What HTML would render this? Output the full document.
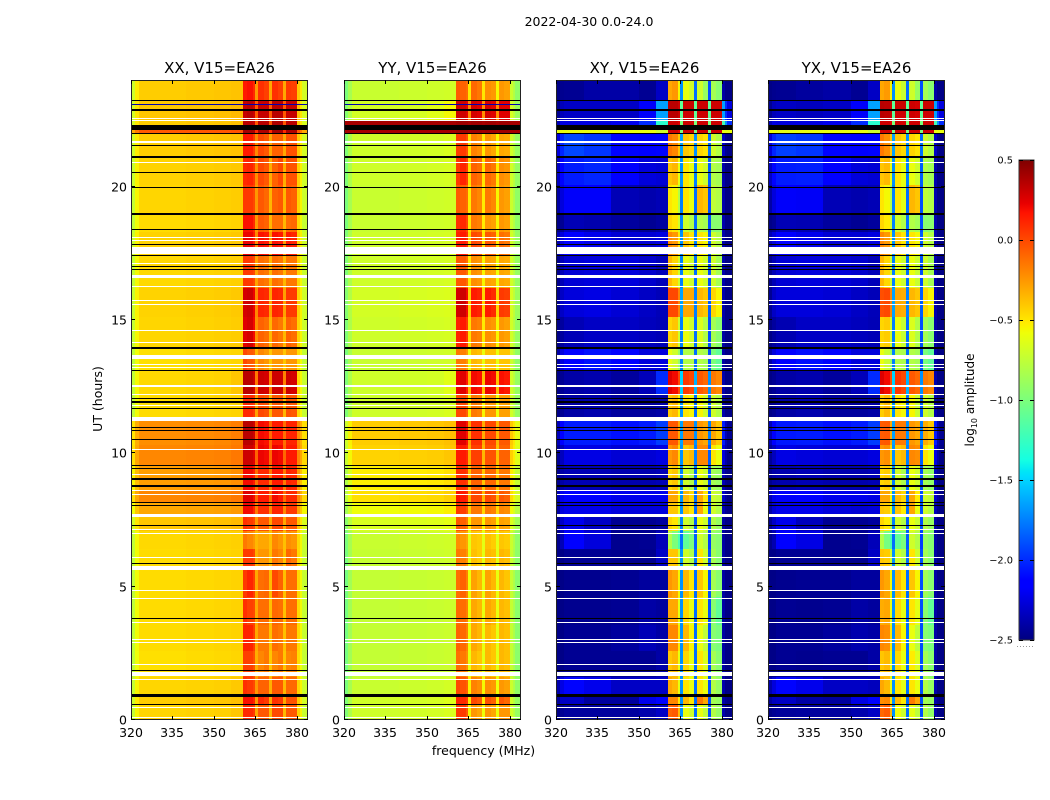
<!DOCTYPE html>
<html lang="en">
<head>
<meta charset="utf-8">
<title>2022-04-30 amplitude waterfall</title>
<style>
html,body{margin:0;padding:0;background:#fff;width:1050px;height:800px;overflow:hidden}
svg{display:block}
text{font-family:"DejaVu Sans","Liberation Sans",sans-serif;fill:#000}
</style>
</head>
<body>
<svg id="figure" xmlns="http://www.w3.org/2000/svg" width="1050" height="800" viewBox="0 0 1050 800">
<rect width="1050" height="800" fill="#fff"/>
<text x="589" y="26" font-size="12.5" text-anchor="middle">2022-04-30 0.0-24.0</text>
<text x="483.5" y="755" font-size="12.5" text-anchor="middle">frequency (MHz)</text>
<text x="0" y="0" font-size="12.5" text-anchor="middle" transform="translate(102,399) rotate(-90)">UT (hours)</text>
<text x="0" y="0" font-size="12" text-anchor="middle" transform="translate(974,400) rotate(-90)">log<tspan font-size="8" dy="3">10</tspan><tspan dy="-3"> amplitude</tspan></text>
<g id="panels"></g>
<g id="colorbar"></g>
</svg>
<script>
const panelTitles = ["XX, V15=EA26", "YY, V15=EA26", "XY, V15=EA26", "YX, V15=EA26"];
const freqTicks = [320, 335, 350, 365, 380];
const utTicks = [0, 5, 10, 15, 20];
const colorbarTicks = [0.5, 0, -0.5, -1, -1.5, -2, -2.5];
const colorbarLabels = ["0.5", "0.0", "\u22120.5", "\u22121.0", "\u22121.5", "\u22122.0", "\u22122.5"];
const freqEdgesMHz = [320, 321.5, 323, 330, 340, 350, 356, 360.5, 362, 364, 365, 366, 368, 370, 371, 373, 375, 376, 378, 380, 381, 382, 384];
const utEdgesHours = [0, 0.55, 0.95, 1.6, 2.6, 3.55, 4.6, 5.7, 6.4, 7.1, 7.7, 8.15, 8.6, 9.55, 10.3, 11.25, 12.2, 13.1, 13.95, 15.1, 16.2, 17.45, 18.3, 19, 20.05, 21.1, 22, 22.3, 22.45, 23.25, 24];
// flagged integrations: [centre UT hour, duration in hours]
const blackFlags = [[23.22,.04],[22.89,.08],[22.23,.17],[21.98,.04],[21.55,.04],[21.11,.08],[20.52,.04],[19.98,.04],[18.99,.08],[18.4,.04],[17.84,.04],[17.43,.04],[17,.04],[16.9,.04],[13.95,.08],[13.11,.04],[12.05,.04],[11.91,.08],[11.69,.04],[10.98,.04],[10.86,.04],[10.53,.04],[9.55,.04],[9.44,.04],[9.05,.08],[8.78,.08],[8.15,.04],[8.06,.04],[7.3,.04],[5.88,.04],[3.81,.04],[1.85,.04],[.93,.11],[.59,.04]];
const whiteFlags = [[22.55,.04],[22.49,.04],[21.69,.08],[20.91,.04],[18.09,.04],[17.97,.04],[17.6,.27],[17.11,.04],[16.64,.1],[16.26,.04],[15.72,.04],[15.59,.04],[14.61,.04],[14.16,.04],[13.62,.14],[13.34,.04],[13.23,.04],[12.56,.04],[12.5,.04],[12.21,.04],[11.8,.04],[11.3,.16],[10.16,.04],[9.21,.04],[8.6,.04],[8.44,.04],[7.68,.1],[7.14,.04],[7,.04],[6.1,.04],[5.71,.14],[4.86,.04],[4.56,.04],[3.66,.04],[3.03,.04],[2.91,.04],[2.09,.04],[1.73,.16],[1.51,.04],[.48,.04],[.1,.04]];
const lowAmplitudeFlagsXXYY = [[23.09,.04]];
// log10 amplitude in hundredths of a dex; rows run UT 0 upward, columns follow freqEdgesMHz
const xxAmplitude = [
[-73,-55,-45,-45,-44,-43,-40,10,10,5,-30,-5,-5,-35,0,0,-35,-5,-5,-44,-55,-72],
[-70,-52,-42,-42,-41,-40,-38,18,18,12,-25,10,5,-30,8,5,-30,-3,-3,-41,-52,-68],
[-73,-55,-45,-45,-44,-43,-41,8,5,0,-25,-8,-8,-33,-5,-5,-35,-10,-10,-44,-55,-71],
[-76,-58,-48,-48,-47,-46,-45,3,3,-3,-32,-20,-15,-40,-20,-15,-40,-20,-18,-47,-58,-74],
[-75,-57,-47,-47,-46,-45,-44,12,12,3,-30,-15,-15,-38,-12,-15,-38,-15,-15,-46,-57,-73],
[-75,-57,-47,-47,-46,-45,-44,8,3,0,-30,-12,-12,-38,-10,-12,-38,-12,-12,-46,-57,-73],
[-75,-57,-47,-47,-46,-45,-44,5,12,3,-30,-12,-10,-36,0,-8,-38,-12,-12,-46,-57,-73],
[-75,-57,-47,-47,-46,-45,-44,5,5,0,-33,-25,-25,-38,-15,-20,-38,-10,-15,-46,-57,-73],
[-74,-56,-46,-46,-45,-44,-43,-15,-20,-25,-35,-30,-30,-38,-20,-25,-38,-22,-25,-45,-56,-72],
[-68,-50,-40,-40,-39,-38,-36,8,5,0,-25,-5,-5,-30,0,0,-30,-5,-5,-39,-50,-66],
[-58,-40,-30,-30,-29,-28,-26,20,20,12,-15,8,8,-20,12,12,-20,5,5,-29,-40,-56],
[-48,-30,-20,-20,-19,-18,-15,25,25,20,-8,15,15,-10,20,15,-10,10,10,-19,-30,-46],
[-55,-37,-27,-27,-26,-25,-22,20,20,15,-12,10,10,-15,15,15,-15,12,10,-26,-37,-53],
[-48,-30,-20,-20,-19,-18,-15,30,30,25,-8,22,20,-10,22,20,-10,15,15,-19,-30,-46],
[-50,-32,-22,-22,-21,-20,-17,35,35,30,-5,20,18,-10,15,15,-12,12,12,-21,-32,-48],
[-75,-57,-47,-47,-46,-45,-44,10,10,5,-28,0,-3,-35,-5,-5,-35,-3,-5,-46,-57,-73],
[-74,-56,-46,-46,-45,-44,-40,35,35,30,-15,30,28,-18,30,30,-18,30,28,-45,-56,-72],
[-76,-58,-48,-48,-47,-46,-45,0,-5,-8,-35,-20,-25,-40,-25,-25,-40,-25,-25,-47,-58,-74],
[-73,-55,-45,-45,-44,-43,-42,25,28,20,-22,-8,-12,-35,-10,-15,-35,-8,-12,-44,-55,-71],
[-72,-54,-44,-44,-43,-42,-41,28,30,22,-20,12,10,-28,12,10,-28,5,5,-43,-54,-70],
[-74,-56,-46,-46,-45,-44,-43,5,5,0,-28,-12,-15,-35,-12,-15,-35,-15,-15,-45,-56,-72],
[-72,-54,-44,-44,-43,-42,-41,22,22,15,-20,18,15,-25,18,15,-25,15,12,-43,-54,-70],
[-75,-57,-47,-47,-46,-45,-44,18,18,10,-25,-5,-8,-35,-12,-12,-35,-12,-10,-46,-57,-73],
[-73,-55,-45,-45,-44,-43,-42,5,5,0,-25,-5,-10,-35,-8,-5,-35,-5,-8,-44,-55,-71],
[-72,-54,-44,-44,-43,-42,-41,10,12,5,-22,0,-5,-32,-8,0,-32,-3,-3,-43,-54,-70],
[-70,-52,-42,-42,-41,-40,-39,15,15,5,-20,0,-5,-30,-8,-8,-30,-3,-3,-41,-52,-68],
[-30,-15,-5,-5,-5,-5,-3,40,40,38,10,38,38,10,40,40,10,38,38,-5,-15,-30],
[-68,-50,-42,-42,-41,-40,-38,35,35,32,-5,35,35,-5,38,38,-5,35,35,-41,-50,-66],
[-68,-50,-40,-40,-39,-38,-36,32,35,30,-5,32,32,-5,35,35,-5,32,32,-39,-50,-66],
[-70,-52,-42,-42,-41,-40,-39,15,18,10,-25,8,3,-30,8,3,-30,5,3,-41,-52,-68]
];
const yyAmplitude = [
[-98,-82,-70,-70,-69,-68,-66,5,5,-5,-55,-25,-30,-58,-25,-30,-58,-25,-25,-69,-78,-90],
[-98,-82,-69,-69,-68,-67,-64,12,10,5,-50,0,-5,-52,-3,-8,-52,-5,-10,-68,-78,-90],
[-100,-84,-72,-72,-71,-70,-68,0,-3,-8,-54,-18,-22,-56,-22,-25,-58,-25,-28,-71,-80,-92],
[-102,-86,-74,-74,-73,-72,-71,-12,-15,-22,-60,-35,-40,-62,-35,-40,-62,-35,-38,-73,-82,-94],
[-102,-86,-74,-74,-73,-72,-71,-8,-10,-18,-58,-30,-35,-60,-35,-40,-62,-35,-38,-73,-82,-94],
[-102,-86,-74,-74,-73,-72,-71,-10,-12,-18,-58,-30,-35,-60,-30,-35,-60,-35,-38,-73,-82,-94],
[-102,-86,-74,-74,-73,-72,-71,-12,-8,-18,-58,-28,-35,-60,-28,-35,-60,-35,-40,-73,-82,-94],
[-101,-85,-73,-73,-72,-71,-70,-15,-18,-25,-60,-38,-42,-62,-35,-38,-62,-35,-38,-72,-81,-93],
[-100,-84,-72,-72,-71,-70,-69,-22,-25,-30,-62,-40,-42,-62,-38,-42,-62,-40,-42,-71,-80,-92],
[-94,-78,-66,-66,-65,-64,-62,-5,-8,-15,-52,-25,-25,-55,-25,-28,-55,-28,-30,-65,-74,-86],
[-86,-70,-58,-58,-57,-56,-53,5,3,-5,-42,-15,-15,-45,-15,-18,-45,-20,-22,-57,-66,-78],
[-76,-60,-48,-48,-47,-46,-43,18,15,10,-32,0,0,-35,0,-3,-35,-5,-8,-47,-56,-68],
[-81,-65,-53,-53,-52,-51,-48,8,8,3,-38,-8,-8,-40,-10,-10,-40,-15,-15,-52,-61,-73],
[-72,-56,-44,-44,-43,-42,-40,15,15,10,-32,3,3,-35,-3,-3,-38,-8,-8,-43,-52,-64],
[-70,-54,-42,-42,-41,-40,-38,25,25,18,-28,8,8,-32,0,0,-35,-5,-5,-41,-50,-62],
[-98,-82,-70,-70,-69,-68,-66,0,0,-8,-52,-15,-18,-55,-25,-25,-58,-28,-28,-69,-78,-90],
[-98,-82,-70,-70,-69,-68,-63,22,25,15,-35,20,18,-38,22,20,-38,18,15,-69,-78,-90],
[-100,-84,-72,-72,-71,-70,-69,-15,-18,-25,-58,-35,-38,-60,-38,-38,-60,-40,-40,-71,-80,-92],
[-98,-82,-70,-70,-69,-68,-67,12,15,5,-48,-15,-18,-52,-22,-25,-55,-25,-28,-69,-78,-90],
[-96,-80,-68,-68,-67,-66,-65,28,30,20,-42,15,12,-45,15,10,-45,5,3,-67,-76,-88],
[-98,-82,-70,-70,-69,-68,-67,-5,-5,-12,-52,-22,-25,-55,-28,-30,-58,-30,-32,-69,-78,-90],
[-98,-82,-70,-70,-69,-68,-67,12,15,8,-45,0,-3,-50,-5,-8,-50,-12,-15,-69,-78,-90],
[-100,-84,-72,-72,-71,-70,-69,8,10,0,-50,-15,-18,-52,-25,-28,-55,-25,-28,-71,-80,-92],
[-100,-84,-72,-72,-71,-70,-69,-5,-8,-12,-52,-15,-20,-52,-15,-20,-55,-25,-28,-71,-80,-92],
[-98,-82,-70,-70,-69,-68,-67,5,12,3,-48,-8,-12,-50,-10,-15,-52,-22,-25,-69,-78,-90],
[-98,-82,-70,-70,-69,-68,-66,3,5,-3,-48,-18,-22,-52,-25,-30,-55,-30,-32,-69,-78,-90],
[40,40,40,40,40,40,40,42,42,42,40,42,42,40,42,42,40,42,42,40,40,40],
[40,40,40,40,40,40,40,42,42,42,40,42,42,40,42,42,40,42,42,40,40,40],
[-96,-80,-68,-68,-67,-63,-56,30,30,25,-20,28,25,-22,28,25,-22,25,25,-67,-76,-88],
[-100,-84,-72,-72,-71,-70,-69,-5,-8,-12,-50,-10,-15,-50,-22,-25,-55,-25,-28,-71,-80,-92]
];
const xyAmplitude = [
[-248,-245,-242,-242,-242,-238,-232,-8,-5,-35,-170,-60,-70,-180,-60,-75,-190,-80,-90,-238,-248,-248],
[-242,-232,-232,-242,-242,-222,-212,-20,-20,-50,-170,-35,-50,-180,-15,-30,-190,-85,-90,-238,-245,-248],
[-238,-224,-212,-222,-232,-232,-232,-30,-35,-60,-170,-50,-60,-180,-50,-60,-190,-80,-90,-238,-248,-248],
[-248,-248,-245,-245,-245,-245,-240,-40,-35,-60,-170,-45,-60,-180,-50,-65,-190,-85,-95,-240,-248,-248],
[-248,-248,-245,-245,-242,-236,-240,-20,-20,-50,-170,-35,-55,-180,-60,-75,-190,-95,-100,-240,-248,-248],
[-248,-248,-246,-246,-245,-240,-242,-30,-30,-60,-170,-45,-60,-180,-50,-60,-190,-95,-110,-240,-248,-248],
[-248,-248,-246,-246,-245,-242,-242,-25,-30,-55,-170,-35,-50,-180,-40,-55,-190,-85,-95,-240,-248,-248],
[-248,-248,-245,-245,-246,-246,-232,-40,-40,-70,-170,-70,-80,-180,-50,-70,-190,-85,-95,-240,-248,-248],
[-246,-236,-215,-226,-246,-245,-235,-80,-100,-120,-180,-110,-100,-185,-70,-80,-195,-90,-95,-240,-248,-248],
[-245,-232,-222,-232,-245,-245,-242,-45,-50,-80,-175,-70,-80,-185,-60,-70,-190,-80,-90,-240,-248,-248],
[-240,-226,-222,-222,-226,-226,-226,-40,-40,-60,-170,-40,-50,-180,-30,-60,-190,-70,-80,-235,-245,-248],
[-235,-222,-216,-216,-222,-222,-222,-30,-30,-55,-170,-35,-45,-180,-30,-50,-190,-70,-75,-230,-242,-248],
[-246,-240,-236,-236,-238,-238,-236,-45,-40,-70,-175,-70,-80,-180,-60,-70,-190,-85,-90,-235,-245,-248],
[-244,-234,-224,-224,-228,-228,-225,-25,-20,-45,-170,-40,-35,-175,-20,-20,-185,-50,-60,-225,-240,-248],
[-235,-215,-205,-205,-208,-205,-195,-5,-5,-30,-165,-15,-15,-170,-25,-30,-175,-30,-40,-205,-235,-245],
[-248,-245,-240,-238,-242,-242,-240,-40,-35,-55,-170,-50,-55,-180,-55,-70,-185,-70,-80,-238,-248,-248],
[-248,-245,-240,-238,-242,-235,-200,25,20,0,-150,5,0,-160,-5,-10,-170,-15,-20,-238,-248,-248],
[-240,-226,-216,-208,-216,-226,-226,-60,-70,-90,-175,-80,-80,-180,-80,-85,-190,-100,-110,-240,-248,-248],
[-248,-242,-236,-232,-232,-234,-236,-45,-40,-70,-175,-60,-70,-180,-65,-80,-190,-85,-95,-240,-248,-248],
[-245,-232,-226,-224,-228,-232,-235,0,0,-20,-165,-30,-30,-175,-35,-40,-185,-45,-55,-238,-248,-248],
[-246,-236,-228,-226,-226,-230,-235,-35,-45,-70,-175,-60,-70,-180,-60,-70,-190,-70,-85,-238,-248,-248],
[-236,-226,-216,-222,-228,-228,-225,-20,-25,-50,-170,-40,-50,-175,-50,-55,-185,-70,-80,-238,-248,-248],
[-248,-245,-236,-238,-242,-245,-242,-45,-50,-70,-175,-70,-80,-180,-80,-85,-190,-95,-95,-238,-248,-248],
[-240,-226,-218,-218,-236,-238,-236,-50,-55,-80,-175,-50,-60,-180,-35,-40,-190,-75,-80,-238,-248,-248],
[-232,-212,-205,-202,-216,-226,-228,-40,-35,-60,-170,-50,-60,-175,-60,-70,-185,-80,-85,-238,-248,-248],
[-226,-202,-192,-197,-212,-216,-212,-15,-20,-40,-165,-40,-45,-170,-45,-50,-180,-70,-80,-232,-245,-248],
[-60,-60,-60,-60,-60,-60,-70,30,30,25,-100,30,30,-100,30,30,-100,30,30,-60,-60,-60],
[-235,-225,-225,-225,-222,-200,-130,30,30,25,-100,30,30,-100,30,30,-100,30,30,-120,-170,-200],
[-245,-235,-232,-232,-232,-218,-165,35,35,30,-110,30,30,-110,30,30,-110,30,30,-165,-200,-225],
[-248,-246,-245,-240,-240,-245,-232,-30,-25,-55,-170,-60,-70,-180,-70,-90,-190,-85,-95,-240,-248,-248]
];
const yxAmplitude = [
[-248,-245,-243,-242,-242,-238,-232,-10,-6,-35,-170,-58,-70,-180,-62,-76,-190,-80,-92,-238,-248,-248],
[-242,-234,-232,-240,-242,-224,-212,-22,-20,-50,-170,-36,-50,-180,-16,-30,-190,-85,-90,-238,-245,-248],
[-238,-226,-212,-222,-232,-232,-234,-30,-36,-60,-170,-50,-62,-180,-50,-60,-190,-80,-90,-238,-248,-248],
[-248,-248,-245,-246,-245,-245,-240,-40,-36,-60,-170,-46,-60,-180,-52,-65,-190,-85,-95,-240,-248,-248],
[-248,-248,-245,-245,-242,-238,-240,-20,-22,-50,-170,-35,-55,-180,-60,-76,-190,-95,-100,-240,-248,-248],
[-248,-248,-245,-246,-245,-240,-242,-32,-30,-60,-170,-46,-60,-180,-50,-62,-190,-95,-110,-240,-248,-248],
[-248,-248,-246,-245,-245,-242,-242,-25,-30,-56,-170,-36,-50,-180,-40,-55,-190,-86,-95,-240,-248,-248],
[-248,-248,-245,-245,-246,-246,-232,-40,-42,-70,-170,-70,-80,-180,-50,-70,-190,-85,-95,-240,-248,-248],
[-246,-238,-215,-224,-246,-245,-235,-80,-102,-120,-180,-110,-100,-185,-70,-80,-195,-90,-96,-240,-248,-248],
[-245,-232,-222,-234,-245,-245,-242,-45,-52,-80,-175,-70,-80,-185,-60,-72,-190,-80,-90,-240,-248,-248],
[-240,-228,-222,-222,-226,-228,-226,-40,-42,-60,-170,-40,-52,-180,-30,-60,-190,-70,-80,-235,-245,-248],
[-235,-222,-218,-216,-222,-222,-224,-30,-30,-55,-170,-36,-45,-180,-30,-52,-190,-70,-75,-230,-242,-248],
[-246,-240,-238,-236,-238,-238,-236,-45,-42,-70,-175,-70,-82,-180,-60,-70,-190,-85,-92,-235,-245,-248],
[-244,-234,-224,-226,-228,-228,-225,-25,-22,-45,-170,-40,-36,-175,-20,-22,-185,-50,-60,-225,-240,-248],
[-235,-215,-206,-205,-208,-205,-195,-6,-5,-30,-165,-15,-16,-170,-25,-30,-175,-32,-40,-205,-235,-245],
[-248,-245,-240,-238,-242,-242,-240,-42,-35,-55,-170,-50,-56,-180,-55,-72,-185,-70,-80,-238,-248,-248],
[-248,-245,-240,-238,-242,-235,-200,26,20,0,-150,6,0,-160,-5,-10,-170,-15,-20,-238,-248,-248],
[-240,-226,-216,-209,-216,-226,-226,-60,-72,-90,-175,-80,-82,-180,-80,-85,-190,-100,-110,-240,-248,-248],
[-248,-242,-237,-232,-232,-234,-236,-45,-42,-70,-175,-60,-72,-180,-65,-80,-190,-85,-95,-240,-248,-248],
[-245,-232,-226,-226,-228,-232,-235,-2,0,-20,-165,-30,-32,-175,-35,-40,-185,-45,-55,-238,-248,-248],
[-246,-236,-228,-226,-227,-230,-235,-35,-46,-70,-175,-60,-70,-180,-60,-72,-190,-70,-85,-238,-248,-248],
[-236,-226,-216,-222,-228,-228,-225,-20,-26,-50,-170,-40,-50,-175,-50,-56,-185,-70,-80,-238,-248,-248],
[-248,-245,-236,-237,-242,-245,-242,-45,-52,-70,-175,-70,-80,-180,-80,-86,-190,-95,-95,-238,-248,-248],
[-240,-226,-218,-219,-236,-238,-236,-50,-56,-80,-175,-50,-62,-180,-35,-40,-190,-75,-80,-238,-248,-248],
[-232,-212,-205,-204,-216,-226,-228,-40,-36,-60,-170,-50,-60,-175,-60,-70,-185,-80,-86,-238,-248,-248],
[-226,-202,-194,-197,-212,-216,-212,-15,-22,-40,-165,-40,-46,-170,-45,-50,-180,-70,-80,-232,-245,-248],
[-60,-60,-62,-60,-60,-60,-70,30,30,25,-100,30,28,-100,30,30,-100,30,30,-60,-60,-60],
[-235,-225,-226,-225,-222,-200,-130,30,30,25,-100,30,28,-100,30,30,-100,30,30,-120,-170,-200],
[-245,-235,-232,-234,-232,-218,-165,35,34,30,-110,30,30,-110,30,28,-110,30,30,-165,-200,-225],
[-248,-246,-245,-242,-240,-245,-232,-30,-26,-55,-170,-60,-72,-180,-70,-90,-190,-85,-95,-240,-248,-248]
];
const panelAmplitudes = [xxAmplitude, yyAmplitude, xyAmplitude, yxAmplitude];

const SVGNS = "http://www.w3.org/2000/svg";
const panelLefts = [131, 344, 556, 768];
const panelWidth = 177, plotTop = 80, plotBottom = 720;
const utScale = ut => plotBottom - (ut / 24) * (plotBottom - plotTop);
const freqScale = (left, f) => left + ((f - 320) / 64) * panelWidth;
const cbarLeft = 1019, cbarRight = 1034, cbarTop = 160, cbarBottom = 640;
const cbarScale = v => cbarBottom - ((v + 2.5) / 3) * (cbarBottom - cbarTop);

function lerp(stops, t) {
  for (let i = 1; i < stops.length; i++) {
    if (t <= stops[i][0]) {
      const a = stops[i - 1], b = stops[i];
      return a[1] + (b[1] - a[1]) * (t - a[0]) / (b[0] - a[0]);
    }
  }
  return stops[stops.length - 1][1];
}
const jetR = [[0,0],[.35,0],[.66,1],[.89,1],[1,.5]];
const jetG = [[0,0],[.125,0],[.375,1],[.64,1],[.91,0],[1,0]];
const jetB = [[0,.5],[.11,1],[.34,1],[.65,0],[1,0]];
function jet(v) {
  const t = Math.max(0, Math.min(1, (v + 2.5) / 3));
  const c = s => Math.round(lerp(s, t) * 255);
  return "rgb(" + c(jetR) + "," + c(jetG) + "," + c(jetB) + ")";
}
function make(tag, attrs, parent) {
  const el = document.createElementNS(SVGNS, tag);
  for (const k in attrs) el.setAttribute(k, attrs[k]);
  parent.appendChild(el);
  return el;
}

const panelsRoot = document.getElementById("panels");
panelTitles.forEach((title, p) => {
  const left = panelLefts[p];
  const slug = title.slice(0, 2).toLowerCase();
  const g = make("g", {}, panelsRoot);
  
  

  const matrix = panelAmplitudes[p];
  matrix.forEach((row, r) => {
    row.forEach((value, c) => {
      const x0 = Math.round(freqScale(left, freqEdgesMHz[c]));
      const x1 = Math.round(freqScale(left, freqEdgesMHz[c + 1]));
      const y0 = Math.round(utScale(utEdgesHours[r + 1]));
      const y1 = Math.round(utScale(utEdgesHours[r]));
      const cell = make("rect", {x: x0, y: y0, width: x1 - x0, height: y1 - y0, fill: jet(value / 100), "shape-rendering": "crispEdges"}, g);
      
      
    });
  });

  const drawFlags = (list, color, name) => list.forEach(flag => {
    const top = utScale(flag[0] + flag[1] / 2);
    const h = Math.max(1, Math.round((flag[1] / 24) * (plotBottom - plotTop)));
    const line = make("rect", {x: left, y: Math.round(top), width: panelWidth, height: h, fill: color, "shape-rendering": "crispEdges"}, g);
    
    
  });
  drawFlags(whiteFlags, "#fff", "flagged-white-line");
  drawFlags(blackFlags, "#000", "flagged-black-line");
  if (p < 2) drawFlags(lowAmplitudeFlagsXXYY, "#0000b0", "low-amplitude-line");

  const frame = make("rect", {x: left + .5, y: plotTop + .5, width: panelWidth - 1, height: plotBottom - plotTop - 1, fill: "none", stroke: "#222", "stroke-width": 1}, g);
  
  

  freqTicks.forEach(f => {
    const x = Math.round(freqScale(left, f)) + .5;
    [[plotBottom, plotBottom - 4], [plotTop, plotTop + 4]].forEach(e => {
      const tick = make("line", {x1: x, x2: x, y1: e[0], y2: e[1], stroke: "#000", "stroke-width": 1}, g);
      
      
    });
    const label = make("text", {x: x - .5, y: plotBottom + 17, "font-size": 12.5, "text-anchor": "middle"}, g);
    
    
    label.textContent = f;
  });
  utTicks.forEach(u => {
    const y = Math.round(utScale(u)) - .5;
    [[left, left + 4], [left + panelWidth, left + panelWidth - 4]].forEach(e => {
      const tick = make("line", {x1: e[0], x2: e[1], y1: y, y2: y, stroke: "#000", "stroke-width": 1}, g);
      
      
    });
    const label = make("text", {x: left - 4, y: y + 5, "font-size": 12.5, "text-anchor": "end"}, g);
    
    
    label.textContent = u;
  });
  const titleEl = make("text", {x: left + panelWidth / 2, y: 73, "font-size": 15, "text-anchor": "middle"}, g);
  
  
  titleEl.textContent = title;
});

const cbar = document.getElementById("colorbar");
const defs = make("defs", {}, cbar);
const grad = make("linearGradient", {id: "jetGradient", x1: 0, y1: 1, x2: 0, y2: 0}, defs);
[0,.11,.125,.34,.35,.375,.64,.65,.66,.89,.91,1].forEach(t => {
  make("stop", {offset: t, "stop-color": jet(t * 3 - 2.5)}, grad);
});
const bar = make("rect", {x: cbarLeft, y: cbarTop, width: cbarRight - cbarLeft, height: cbarBottom - cbarTop, fill: "url(#jetGradient)", stroke: "#333", "stroke-width": 1}, cbar);


colorbarTicks.forEach((v, i) => {
  const y = Math.round(cbarScale(v)) + .5;
  [[cbarLeft, cbarLeft + 4], [cbarRight, cbarRight - 4]].forEach(e => {
    const tick = make("line", {x1: e[0], x2: e[1], y1: y, y2: y, stroke: "#000", "stroke-width": 1}, cbar);
    
    
  });
  const label = make("text", {x: cbarLeft - 6, y: y + 3, "font-size": 9.8, "text-anchor": "end"}, cbar);
  
  
  label.textContent = colorbarLabels[i];
});
const dots = make("line", {x1: 1017, x2: 1034, y1: 646.5, y2: 646.5, stroke: "#999", "stroke-width": 1, "stroke-dasharray": "1 2"}, cbar);


</script>
</body>
</html>
